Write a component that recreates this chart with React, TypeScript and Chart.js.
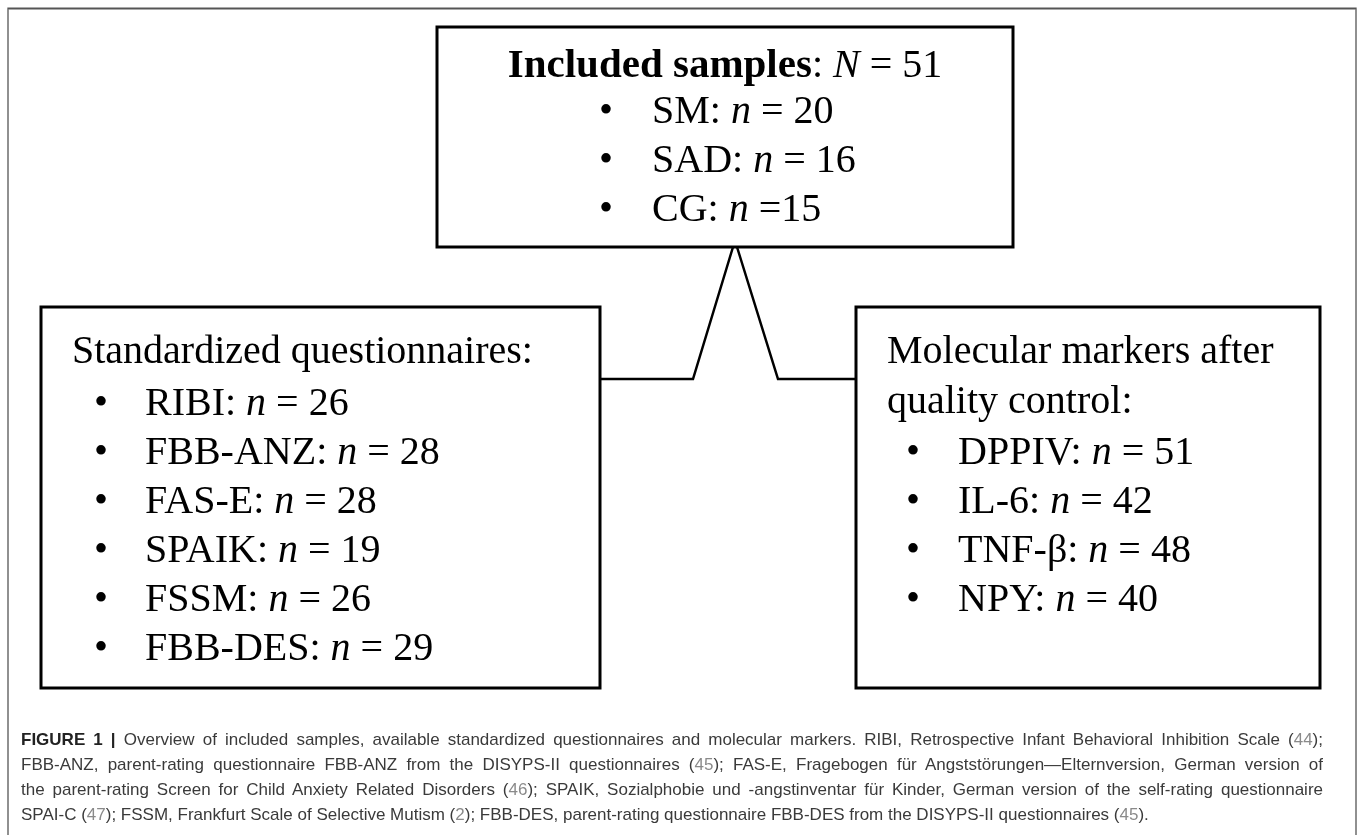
import React, { useEffect, useRef } from 'react';
import { Chart, registerables } from 'chart.js';

Chart.register(...registerables);

// ---------- content ----------
const titleLabel = 'Included samples';
const totalSamples = 51;
const sampleGroups = ['SM', 'SAD', 'CG'];
const sampleCounts = [20, 16, 15];
const sampleEquals = [' = ', ' = ', ' ='];

const questionnaireHeader = ['Standardized questionnaires:'];
const questionnaireNames = ['RIBI', 'FBB-ANZ', 'FAS-E', 'SPAIK', 'FSSM', 'FBB-DES'];
const questionnaireCounts = [26, 28, 28, 19, 26, 29];

const markerHeader = ['Molecular markers after', 'quality control:'];
const markerNames = ['DPPIV', 'IL-6', 'TNF-\u03b2', 'NPY'];
const markerCounts = [51, 42, 48, 40];

// caption lines: [text, kind] where kind b = bold, r = regular, f = reference
const captionLines: [string, string][][] = [
  [
    ['FIGURE 1 | ', 'b'],
    ['Overview of included samples, available standardized questionnaires and molecular markers. RIBI, Retrospective Infant Behavioral Inhibition Scale (', 'r'],
    ['44', 'f'],
    [');', 'r'],
  ],
  [
    ['FBB-ANZ, parent-rating questionnaire FBB-ANZ from the DISYPS-II questionnaires (', 'r'],
    ['45', 'f'],
    ['); FAS-E, Fragebogen f\u00fcr Angstst\u00f6rungen\u2014Elternversion, German version of', 'r'],
  ],
  [
    ['the parent-rating Screen for Child Anxiety Related Disorders (', 'r'],
    ['46', 'f'],
    ['); SPAIK, Sozialphobie und -angstinventar f\u00fcr Kinder, German version of the self-rating questionnaire', 'r'],
  ],
  [
    ['SPAI-C (', 'r'],
    ['47', 'f'],
    ['); FSSM, Frankfurt Scale of Selective Mutism (', 'r'],
    ['2', 'f'],
    ['); FBB-DES, parent-rating questionnaire FBB-DES from the DISYPS-II questionnaires (', 'r'],
    ['45', 'f'],
    [').', 'r'],
  ],
];

// ---------- layout (diagram units = page pixels) ----------
const W = 1358;
const H = 835;
const BOX_TOP = { x0: 437, y0: 27, x1: 1013, y1: 247 };
const BOX_LEFT = { x0: 41, y0: 307, x1: 600, y1: 688 };
const BOX_RIGHT = { x0: 856, y0: 307, x1: 1320, y1: 688 };
const APEX_L = 733;
const APEX_R = 737;
const FOOT_L = 693;
const FOOT_R = 778;
const LINK_Y = 379;

const SERIF = '"Liberation Serif", "Times New Roman", serif';
const FS = 40;

type Seg = { t: string; s: 'r' | 'i' | 'b' };

function fontFor(s: string) {
  if (s === 'b') return `bold ${FS + 1}px ${SERIF}`;
  if (s === 'i') return `italic ${FS}px ${SERIF}`;
  return `${FS}px ${SERIF}`;
}

function measure(ctx: CanvasRenderingContext2D, segs: Seg[]) {
  let w = 0;
  for (const sg of segs) {
    ctx.font = fontFor(sg.s);
    w += ctx.measureText(sg.t).width;
  }
  return w;
}

function drawSegs(ctx: CanvasRenderingContext2D, segs: Seg[], x: number, y: number) {
  let cx = x;
  ctx.textAlign = 'left';
  ctx.textBaseline = 'alphabetic';
  for (const sg of segs) {
    ctx.font = fontFor(sg.s);
    ctx.fillText(sg.t, cx, y);
    cx += ctx.measureText(sg.t).width;
  }
}

function countLine(name: string, count: number, eq = ' = '): Seg[] {
  return [
    { t: name + ': ', s: 'r' },
    { t: 'n', s: 'i' },
    { t: eq + String(count), s: 'r' },
  ];
}

const diagramPlugin = {
  id: 'diagram',
  afterDatasetsDraw(chart: any) {
    const ctx: CanvasRenderingContext2D = chart.ctx;
    const xs = chart.scales.x;
    const ys = chart.scales.y;
    const px = (v: number) => xs.getPixelForValue(v);
    const py = (v: number) => ys.getPixelForValue(v);
    ctx.save();

    // outer frame
    ctx.lineWidth = 2;
    ctx.strokeStyle = '#909090';
    ctx.beginPath();
    ctx.moveTo(px(8), py(H));
    ctx.lineTo(px(8), py(8.5));
    ctx.lineTo(px(1356), py(8.5));
    ctx.lineTo(px(1356), py(H));
    ctx.stroke();
    ctx.strokeStyle = '#555';
    ctx.lineWidth = 1.5;
    ctx.beginPath();
    ctx.moveTo(px(8), py(8.5));
    ctx.lineTo(px(1356), py(8.5));
    ctx.stroke();

    // boxes
    ctx.strokeStyle = '#000';
    ctx.lineWidth = 3;
    ctx.lineJoin = 'miter';
    for (const b of [BOX_TOP, BOX_LEFT, BOX_RIGHT]) {
      ctx.strokeRect(px(b.x0), py(b.y0), px(b.x1) - px(b.x0), py(b.y1) - py(b.y0));
    }

    ctx.fillStyle = '#000';

    // top box
    const title: Seg[] = [
      { t: titleLabel, s: 'b' },
      { t: ': ', s: 'r' },
      { t: 'N', s: 'i' },
      { t: ' = ' + totalSamples, s: 'r' },
    ];
    const tw = measure(ctx, title);
    const cxTop = (px(BOX_TOP.x0) + px(BOX_TOP.x1)) / 2;
    drawSegs(ctx, title, cxTop - tw / 2, py(77));
    sampleGroups.forEach((g, i) => {
      const y = py(123 + i * 49);
      ctx.font = fontFor('r');
      ctx.textAlign = 'center';
      ctx.fillText('\u2022', px(606), y);
      drawSegs(ctx, countLine(g, sampleCounts[i], sampleEquals[i]), px(652), y);
    });

    // left box
    questionnaireHeader.forEach((h, i) => {
      drawSegs(ctx, [{ t: h, s: 'r' }], px(72), py(363 + i * 50));
    });
    questionnaireNames.forEach((q, i) => {
      const y = py(415 + i * 49);
      ctx.font = fontFor('r');
      ctx.textAlign = 'center';
      ctx.fillText('\u2022', px(101), y);
      drawSegs(ctx, countLine(q, questionnaireCounts[i]), px(145), y);
    });

    // right box
    markerHeader.forEach((h, i) => {
      drawSegs(ctx, [{ t: h, s: 'r' }], px(887), py(363 + i * 50));
    });
    markerNames.forEach((m, i) => {
      const y = py(464 + i * 49);
      ctx.font = fontFor('r');
      ctx.textAlign = 'center';
      ctx.fillText('\u2022', px(913), y);
      drawSegs(ctx, countLine(m, markerCounts[i]), px(958), y);
    });

    ctx.restore();
  },
};

export default function App() {
  const canvasRef = useRef<HTMLCanvasElement | null>(null);

  useEffect(() => {
    const canvas = canvasRef.current;
    if (!canvas) return;
    const chart = new Chart(canvas, {
      type: 'scatter',
      data: {
        datasets: [
          {
            label: 'link-left',
            data: [
              { x: BOX_LEFT.x1, y: LINK_Y },
              { x: FOOT_L, y: LINK_Y },
              { x: APEX_L, y: BOX_TOP.y1 },
            ],
            showLine: true,
            borderColor: '#000',
            borderWidth: 2.5,
            pointRadius: 0,
            tension: 0,
          },
          {
            label: 'link-right',
            data: [
              { x: APEX_R, y: BOX_TOP.y1 },
              { x: FOOT_R, y: LINK_Y },
              { x: BOX_RIGHT.x0, y: LINK_Y },
            ],
            showLine: true,
            borderColor: '#000',
            borderWidth: 2.5,
            pointRadius: 0,
            tension: 0,
          },
        ],
      },
      options: {
        animation: false,
        responsive: false,
        maintainAspectRatio: false,
        events: [],
        layout: { padding: 0 },
        plugins: {
          legend: { display: false },
          tooltip: { enabled: false },
          title: { display: false },
        },
        scales: {
          x: { type: 'linear', min: 0, max: W, display: false },
          y: { type: 'linear', min: 0, max: H, reverse: true, display: false },
        },
      },
      plugins: [diagramPlugin],
    });
    return () => chart.destroy();
  }, []);

  const lineStyle = (last: boolean): React.CSSProperties => ({
    height: 25,
    lineHeight: '25px',
    whiteSpace: 'nowrap',
    textAlign: last ? 'left' : 'justify',
    textAlignLast: last ? 'left' : 'justify',
  } as React.CSSProperties);

  return (
    <div style={{ position: 'absolute', left: 0, top: 0, width: W, height: H, background: '#fff', overflow: 'hidden' }}>
      <canvas ref={canvasRef} width={W} height={H} style={{ width: W, height: H, display: 'block' }} />
      <div
        style={{
          position: 'absolute',
          left: 21,
          top: 727,
          width: 1302,
          fontFamily: '"Liberation Sans", Arial, Helvetica, sans-serif',
          fontSize: 17,
          color: '#3a3a3a',
        }}
      >
        {captionLines.map((line, li) => (
          <div key={li} style={lineStyle(li === captionLines.length - 1)}>
            {line.map(([t, k], si) => (
              <span
                key={si}
                style={{
                  fontWeight: k === 'b' ? 700 : 400,
                  color: k === 'b' ? '#222' : k === 'f' ? '#8a8a8a' : '#3a3a3a',
                }}
              >
                {t}
              </span>
            ))}
          </div>
        ))}
      </div>
    </div>
  );
}
